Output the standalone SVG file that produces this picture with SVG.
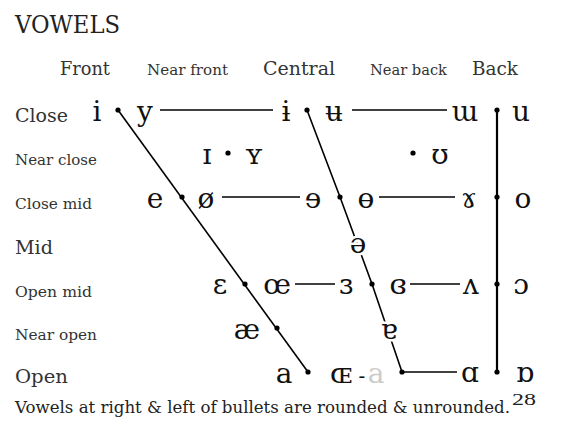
<svg xmlns="http://www.w3.org/2000/svg" width="563" height="436" viewBox="0 0 563 436">
<style>
.t{font-family:"DejaVu Serif","Liberation Serif",serif;fill:#222}
.title{font-size:24px}
.hd{font-size:18px;fill:#333}
.sm{font-size:14px;fill:#333}
.rl{font-size:19px;fill:#333}
.v{font-family:"DejaVu Serif","Liberation Serif",serif;font-size:28px;fill:#111;text-anchor:middle}
.halo{stroke:#fff;stroke-width:5px;paint-order:stroke;stroke-linejoin:round}
.ln{stroke:#000;stroke-width:1.6;fill:none}
.bk{stroke:#000;stroke-width:2.2;fill:none}
.b{fill:#000}
.foot{font-size:16px;fill:#222}
</style>
<rect width="563" height="436" fill="#fff"/>
<text class="t title" x="15" y="33" textLength="105" lengthAdjust="spacingAndGlyphs">VOWELS</text>
<g id="headers">
<text class="t hd" x="60" y="75" textLength="50" lengthAdjust="spacingAndGlyphs">Front</text>
<text class="t sm" x="147" y="75" textLength="81" lengthAdjust="spacingAndGlyphs">Near front</text>
<text class="t hd" x="263" y="75" textLength="72" lengthAdjust="spacingAndGlyphs">Central</text>
<text class="t sm" x="370" y="75" textLength="77" lengthAdjust="spacingAndGlyphs">Near back</text>
<text class="t hd" x="472" y="75" textLength="46" lengthAdjust="spacingAndGlyphs">Back</text>
</g>
<g id="row-labels">
<text class="t rl" x="15" y="122" textLength="53" lengthAdjust="spacingAndGlyphs">Close</text>
<text class="t sm" x="15" y="165" textLength="82" lengthAdjust="spacingAndGlyphs">Near close</text>
<text class="t sm" x="15" y="209" textLength="77" lengthAdjust="spacingAndGlyphs">Close mid</text>
<text class="t rl" x="15" y="254" textLength="38" lengthAdjust="spacingAndGlyphs">Mid</text>
<text class="t sm" x="15" y="297" textLength="77" lengthAdjust="spacingAndGlyphs">Open mid</text>
<text class="t sm" x="15" y="340" textLength="82" lengthAdjust="spacingAndGlyphs">Near open</text>
<text class="t rl" x="15" y="383" textLength="53" lengthAdjust="spacingAndGlyphs">Open</text>
</g>
<g id="connectors">
<line class="ln" x1="118" y1="110" x2="308" y2="372"/>
<polyline class="ln" points="307,110 340,197 372,284 402,372"/>
<line class="bk" x1="497" y1="110" x2="497" y2="372"/>
<line class="ln" x1="160" y1="110" x2="273" y2="110"/>
<line class="ln" x1="352" y1="110" x2="447" y2="110"/>
<line class="ln" x1="222" y1="197" x2="300" y2="197"/>
<line class="ln" x1="379" y1="197" x2="455" y2="197"/>
<line class="ln" x1="295" y1="284" x2="335" y2="284"/>
<line class="ln" x1="410" y1="284" x2="460" y2="284"/>
<line class="ln" x1="402" y1="372" x2="457" y2="372"/>
</g>
<g id="close-front"><text class="v" x="97" y="121">i</text><circle class="b" cx="118" cy="110" r="2.6"/><text class="v" x="145" y="121">y</text></g>
<g id="close-central"><text class="v" x="286" y="121">ɨ</text><circle class="b" cx="307" cy="110" r="2.6"/><text class="v" x="334" y="121">ʉ</text></g>
<g id="close-back"><text class="v" x="465" y="121">ɯ</text><circle class="b" cx="497" cy="110" r="2.6"/><text class="v" x="521" y="121">u</text></g>
<g id="nearclose-front"><text class="v" x="207" y="164">ɪ</text><circle class="b" cx="228" cy="153" r="2.6"/><text class="v" x="254" y="164">ʏ</text></g>
<g id="nearclose-back"><circle class="b" cx="413" cy="153" r="2.6"/><text class="v" x="440" y="164">ʊ</text></g>
<g id="closemid-front"><text class="v" x="155" y="208">e</text><circle class="b" cx="182" cy="197" r="2.6"/><text class="v" x="206" y="208">ø</text></g>
<g id="closemid-central"><text class="v" x="313" y="208">ɘ</text><circle class="b" cx="340" cy="197" r="2.6"/><text class="v" x="366" y="208">ɵ</text></g>
<g id="closemid-back"><text class="v" x="469" y="208">ɤ</text><circle class="b" cx="497" cy="197" r="2.6"/><text class="v" x="523" y="208">o</text></g>
<g id="mid-central"><text class="v halo" x="358" y="253">ə</text></g>
<g id="openmid-front"><text class="v" x="220" y="294">ɛ</text><circle class="b" cx="245" cy="284" r="2.6"/><text class="v" x="277" y="294">œ</text></g>
<g id="openmid-central"><text class="v" x="346" y="294">ɜ</text><circle class="b" cx="372" cy="284" r="2.6"/><text class="v" x="398" y="294">ɞ</text></g>
<g id="openmid-back"><text class="v" x="471" y="294">ʌ</text><circle class="b" cx="497" cy="284" r="2.6"/><text class="v" x="521" y="294">ɔ</text></g>
<g id="nearopen-front"><text class="v" x="247" y="339">æ</text><circle class="b" cx="277" cy="328" r="2.6"/></g>
<g id="nearopen-central"><text class="v halo" x="389" y="339">ɐ</text></g>
<g id="open-front"><text class="v" x="284" y="383">a</text><circle class="b" cx="308" cy="372" r="2.6"/><text class="v" x="341" y="383">ɶ</text><text class="v" x="362" y="383" style="font-size:20px">-</text><text class="v" x="376" y="383" style="fill:#ccc">a</text></g>
<g id="open-central"><circle class="b" cx="402" cy="372" r="2.6"/></g>
<g id="open-back"><text class="v" x="470" y="382">ɑ</text><circle class="b" cx="497" cy="372" r="2.6"/><text class="v" x="525" y="382">ɒ</text></g>
<g id="footer">
<text class="t foot" x="15" y="413" textLength="495" lengthAdjust="spacingAndGlyphs">Vowels at right &amp; left of bullets are rounded &amp; unrounded.</text>
<text x="512" y="405" style="font-family:'Liberation Serif',serif;font-size:16px;fill:#222" textLength="24" lengthAdjust="spacingAndGlyphs">28</text>
</g>
</svg>
